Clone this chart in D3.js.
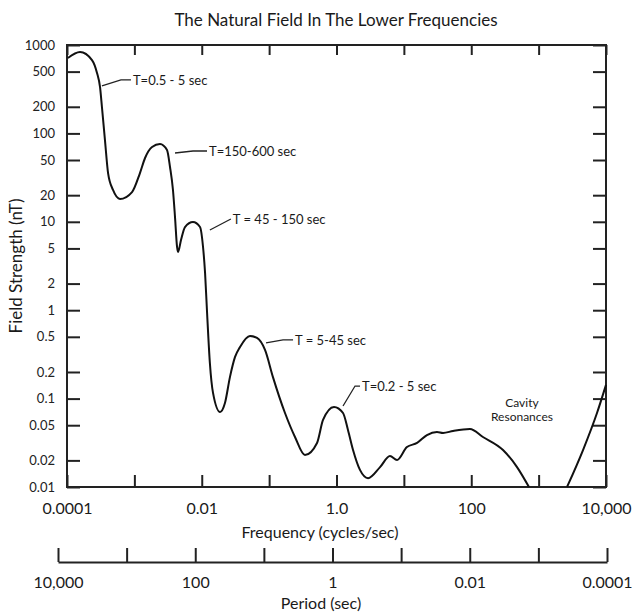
<!DOCTYPE html>
<html>
  <head>
    <meta charset="utf-8">
    <title>The Natural Field In The Lower Frequencies</title>
    <script src="https://d3js.org/d3.v7.min.js"></script>
    <style>
      body { margin: 0; background: #fff; }
      svg { display: block; font-family: Lato, "Open Sans", sans-serif; }
      .tick line { stroke: #222; stroke-width: 2; }
      .ylab text { font-size: 13px; fill: #222; }
      .xlab text { font-size: 16px; fill: #1a1a1a; }
      .title { font-size: 17px; fill: #1a1a1a; }
      .axisTitle { font-size: 16px; fill: #1a1a1a; }
      .note { font-size: 13px; fill: #1a1a1a; }
      .cavity { font-size: 12px; fill: #1a1a1a; }
      .leader { fill: none; stroke: #222; stroke-width: 1.3; }
      .curve { fill: none; stroke: #111; stroke-width: 2; }
    </style>
  </head>
  <body>
    <svg id="chart" width="632" height="615"></svg>
    <script>
      // main curve (frequency in cycles/sec, field strength in nT)
      const freq = [1.03e-4, 1.56e-4, 2.35e-4, 2.79e-4, 3.09e-4, 3.30e-4, 3.66e-4, 4.07e-4, 4.82e-4, 6.12e-4,
        9.23e-4, 1.21e-3, 1.44e-3, 1.83e-3, 2.40e-3, 3.05e-3, 3.38e-3, 3.74e-3, 4.01e-3, 4.30e-3,
        4.45e-3, 4.92e-3, 5.64e-3, 7.41e-3, 9.42e-3, 1.045e-2, 1.12e-2, 1.20e-2, 1.32e-2, 1.47e-2,
        1.87e-2, 2.21e-2, 2.62e-2, 3.12e-2, 3.70e-2, 5.20e-2, 6.61e-2, 8.69e-2, 0.114, 0.172,
        0.242, 0.340, 0.514, 0.631, 0.918, 1.25, 1.48, 1.76, 2.23, 2.94,
        4.43, 6.22, 7.91, 11.1, 15.7, 22.0, 31.0, 38.1, 53.6, 95.7,
        149, 296, 478, 719];
      const field = [713, 834, 676, 482, 335, 199, 84.1, 35.6, 22.9, 18.1,
        21.7, 35.6, 52.7, 70.2, 75.9, 64.9, 41.7, 22.9, 11.3, 5.19,
        4.55, 6.22, 8.73, 9.95, 8.73, 5.19, 2.64, 0.929, 0.253, 0.116,
        0.0705, 0.0891, 0.175, 0.296, 0.384, 0.511, 0.485, 0.355, 0.175, 0.0687,
        0.0368, 0.0230, 0.0315, 0.0573, 0.0804, 0.0687, 0.0442, 0.0262, 0.0156, 0.0126,
        0.0168, 0.0224, 0.0202, 0.0283, 0.0315, 0.0387, 0.0419, 0.0408, 0.0430, 0.0453,
        0.0368, 0.0262, 0.0168, 0.0100];
      // rising branch at the right edge
      const cavityFreq = [2640, 4560, 7350, 10000];
      const cavityField = [0.0100, 0.0262, 0.0687, 0.143];

      // axes
      const yTicks = [0.01, 0.02, 0.05, 0.1, 0.2, 0.5, 1, 2, 5, 10, 20, 50, 100, 200, 500, 1000];
      const yLabels = ["0.01", "0.02", "0.05", "0.1", "0.2", "0.5", "1", "2", "5", "10", "20", "50", "100", "200", "500", "1000"];
      const xTicks = [1e-4, 1e-3, 1e-2, 1e-1, 1, 10, 100, 1000, 1e4];
      const freqLabels = ["0.0001", "", "0.01", "", "1.0", "", "100", "", "10,000"];
      const periodTicks = [1e4, 1000, 100, 10, 1, 0.1, 0.01, 1e-3, 1e-4];
      const periodLabels = ["10,000", "", "100", "", "1", "", "0.01", "", "0.0001"];

      // notes: curve anchor, then pixel offset of the leader end and its flat run
      const notes = [
        { label: "T=0.5 - 5 sec", f: 3.3e-4, v: 344, dx: 29, dy: -6, h: 10 },
        { label: "T=150-600 sec", f: 4.01e-3, v: 60, dx: 32, dy: -2, h: 14 },
        { label: "T = 45 - 150 sec", f: 1.32e-2, v: 8.07, dx: 21, dy: -11, h: 0 },
        { label: "T = 5-45 sec", f: 0.090, v: 0.426, dx: 27, dy: -3, h: 10 },
        { label: "T=0.2 - 5 sec", f: 1.25, v: 0.0824, dx: 17, dy: -20, h: 5 }
      ];
      const cavityLines = ["Cavity", "Resonances"];

      const svg = d3.select("#chart");
      const m = { left: 67, right: 606, top: 45, bottom: 487 };

      const x = d3.scaleLog().domain([1e-4, 1e4]).range([m.left, m.right]);
      const y = d3.scaleLog().domain([0.01, 1000]).range([m.bottom, m.top]);
      const p = d3.scaleLog().domain([1e4, 1e-4]).range([58, 607]);

      // title
      svg.append("text")
        .attr("class", "title")
        .attr("x", 336)
        .attr("y", 26)
        .attr("text-anchor", "middle")
        .text("The Natural Field In The Lower Frequencies");

      // ticks
      svg.append("g")
        .attr("class", "ylab")
        .attr("transform", "translate(" + m.left + ",0)")
        .call(d3.axisLeft(y).tickValues(yTicks).tickFormat((d, i) => yLabels[i])
          .tickSizeInner(-13).tickSizeOuter(0).tickPadding(12));
      svg.append("g")
        .attr("transform", "translate(" + m.right + ",0)")
        .call(d3.axisRight(y).tickValues(yTicks).tickFormat("").tickSizeInner(-13).tickSizeOuter(0));
      svg.append("g")
        .attr("transform", "translate(0," + m.top + ")")
        .call(d3.axisTop(x).tickValues(xTicks).tickFormat("").tickSizeInner(-10).tickSizeOuter(0));
      svg.append("g")
        .attr("class", "xlab")
        .attr("transform", "translate(0," + m.bottom + ")")
        .call(d3.axisBottom(x).tickValues(xTicks).tickFormat((d, i) => freqLabels[i])
          .tickSizeInner(-12).tickSizeOuter(0).tickPadding(16));
      svg.selectAll(".domain").remove();
      svg.selectAll("g").attr("font-family", null).attr("font-size", null);

      // frame
      svg.append("rect")
        .attr("x", m.left)
        .attr("y", m.top)
        .attr("width", m.right - m.left)
        .attr("height", m.bottom - m.top)
        .attr("fill", "none")
        .attr("stroke", "#222")
        .attr("stroke-width", 2);

      // curves
      const line = d3.line()
        .x(d => x(d[0]))
        .y(d => y(d[1]))
        .curve(d3.curveMonotoneX);
      svg.append("path")
        .attr("class", "curve")
        .attr("d", line(d3.zip(freq, field)));
      svg.append("path")
        .attr("class", "curve")
        .attr("d", line(d3.zip(cavityFreq, cavityField)));

      // notes
      notes.forEach(n => {
        const ax = x(n.f), ay = y(n.v);
        const ex = ax + n.dx, ey = ay + n.dy;
        svg.append("path")
          .attr("class", "leader")
          .attr("d", "M" + ax + "," + ay + "L" + (ex - n.h) + "," + ey + "L" + ex + "," + ey);
        svg.append("text")
          .attr("class", "note")
          .attr("x", ex + 2)
          .attr("y", ey)
          .attr("dy", "0.35em")
          .text(n.label);
      });
      svg.selectAll(".cavity")
        .data(cavityLines)
        .enter().append("text")
          .attr("class", "cavity")
          .attr("text-anchor", "middle")
          .attr("x", x(566))
          .attr("y", (d, i) => y(0.089) + 4 + i * 13.5)
          .text(d => d);

      // axis titles
      svg.append("text")
        .attr("class", "axisTitle")
        .attr("x", 320)
        .attr("y", 538)
        .attr("text-anchor", "middle")
        .text("Frequency (cycles/sec)");
      svg.append("text")
        .attr("class", "axisTitle")
        .attr("transform", "translate(22,266) rotate(-90)")
        .attr("text-anchor", "middle")
        .style("font-size", "17px")
        .text("Field Strength (nT)");

      // period axis
      svg.append("g")
        .attr("class", "xlab")
        .attr("transform", "translate(0,562)")
        .call(d3.axisBottom(p).tickValues(periodTicks).tickFormat((d, i) => periodLabels[i])
          .tickSizeInner(-14).tickSizeOuter(0).tickPadding(15))
        .call(g => g.attr("font-family", null).attr("font-size", null))
        .call(g => g.select(".domain").attr("stroke", "#222").attr("stroke-width", 2));
      svg.append("text")
        .attr("class", "axisTitle")
        .attr("x", 321)
        .attr("y", 609)
        .attr("text-anchor", "middle")
        .text("Period (sec)");
    </script>
  </body>
</html>
